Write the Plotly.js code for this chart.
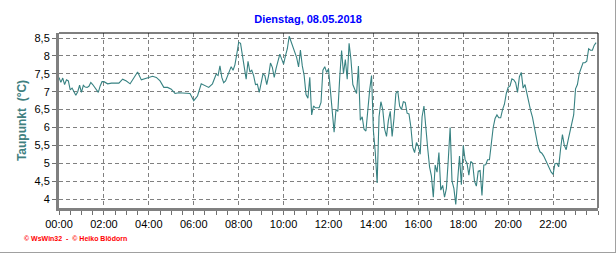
<!DOCTYPE html>
<html>
<head>
<meta charset="utf-8">
<script src="https://cdn.plot.ly/plotly-3.0.1.min.js"></script>
<style>
html,body{margin:0;padding:0;background:#fff;}
#chart{width:616px;height:253px;}
</style>
</head>
<body>
<div id="chart"></div>
<script>
// Measurement times (08.05.2018)
const times = [
"00:00","00:05","00:10","00:15","00:20","00:25","00:30","00:35","00:40","00:45","00:50","00:55",
"01:00","01:05","01:10","01:15","01:20","01:25","01:30","01:35","01:40","01:45","01:50","01:55","02:00",
"02:10","02:20","02:30","02:40","02:50","03:00","03:10","03:20","03:30","03:40","03:50",
"04:00","04:10","04:20","04:30","04:40","04:50","05:00","05:10","05:20","05:30","05:40","05:50",
"06:00","06:10","06:20","06:30","06:40","06:50",
"07:00","07:05","07:10","07:15","07:20","07:25","07:30","07:35","07:40","07:45","07:50","07:55",
"08:00","08:05","08:10","08:15","08:20","08:25","08:30","08:35","08:40","08:45","08:50","08:55",
"09:00","09:05","09:10","09:15","09:20","09:25","09:30","09:35","09:40","09:45","09:50","09:55",
"10:00","10:05","10:10","10:15","10:20","10:25","10:30","10:35","10:40","10:45","10:50","10:55",
"11:00","11:05","11:10","11:15","11:20","11:25","11:30","11:35","11:40","11:45","11:50","11:55",
"12:00","12:05","12:10","12:15","12:20","12:25","12:30","12:35","12:40","12:45","12:50","12:55",
"13:00","13:05","13:10","13:15","13:20","13:25","13:30","13:35","13:40","13:45","13:50","13:55",
"14:00","14:05","14:10","14:15","14:20","14:25","14:30","14:35","14:40","14:45","14:50","14:55",
"15:00","15:05","15:10","15:15","15:20","15:25","15:30","15:35","15:40","15:45","15:50","15:55",
"16:00","16:05","16:10","16:15","16:20","16:25","16:30","16:35","16:40","16:45","16:50","16:55",
"17:00","17:05","17:10","17:15","17:20","17:25","17:30","17:35","17:40","17:45","17:50","17:55",
"18:00","18:05","18:10","18:15","18:20","18:25","18:30","18:35","18:40","18:45","18:50","18:55",
"19:00","19:05","19:10","19:15","19:20","19:25","19:30","19:35","19:40","19:45","19:50","19:55",
"20:00","20:05","20:10","20:15","20:20","20:25","20:30","20:35","20:40","20:45","20:50","20:55",
"21:00","21:05","21:10","21:15","21:20","21:25","21:30","21:35","21:40","21:45","21:50","21:55",
"22:00","22:05","22:10","22:15","22:20","22:25","22:30","22:35","22:40","22:45","22:50","22:55",
"23:00","23:05","23:10","23:15","23:20","23:25","23:30","23:35","23:40","23:45","23:50","23:55"
];

// Dew point (°C)
const taupunkt = [
7.4,7.26,7.38,7.2,7.33,7.3,7.05,7.1,7.0,6.9,7.0,7.18,
6.98,7.18,7.13,7.12,7.15,7.26,7.2,7.13,7.05,6.98,7.16,7.28,7.28,
7.22,7.24,7.24,7.24,7.35,7.3,7.22,7.38,7.55,7.33,7.36,
7.4,7.43,7.4,7.3,7.12,7.12,7.07,6.95,6.97,6.97,6.97,6.95,
6.75,6.88,7.22,7.18,7.12,7.22,
7.49,7.45,7.72,7.4,7.25,7.3,7.45,7.6,7.7,7.6,7.75,8.05,
8.38,8.35,8.05,7.75,7.35,7.85,7.55,7.6,7.45,7.2,7.21,6.98,
7.3,7.5,7.45,7.2,7.45,7.8,7.68,7.4,7.65,7.9,8.05,7.91,
7.77,8.0,8.2,8.55,8.4,8.27,8.1,7.95,7.69,8.16,7.72,7.45,
6.92,6.82,7.4,6.35,6.6,6.55,6.55,6.55,6.7,7.6,7.7,7.54,
7.63,7.0,6.3,5.87,6.5,6.45,7.4,8.15,7.5,7.9,7.35,8.35,
7.9,7.2,7.07,6.95,7.72,6.2,6.3,5.95,5.9,6.6,7.05,7.45,
5.9,5.3,4.45,6.3,6.72,6.5,5.95,5.75,6.2,6.45,5.75,6.25,
6.95,7.02,6.6,6.5,6.72,6.7,6.4,6.38,6.02,5.45,5.3,5.58,
5.48,5.25,6.3,6.6,5.9,5.42,4.9,4.64,4.05,4.95,4.75,5.3,
4.25,4.38,4.05,4.3,5.1,6.0,4.5,4.3,3.85,4.6,5.2,4.4,
5.5,5.1,5.0,4.67,5.05,5.0,4.5,4.36,4.78,4.8,4.1,4.95,
4.96,5.1,5.1,5.55,6.0,6.25,6.35,6.27,6.27,6.5,6.65,6.95,
7.12,7.16,7.36,7.33,7.25,6.98,7.42,7.54,7.1,7.2,6.94,6.7,
6.47,6.28,6.0,5.72,5.46,5.32,5.28,5.2,5.08,4.95,4.84,4.75,
4.69,4.99,5.0,4.9,5.4,5.8,5.5,5.38,5.64,5.9,6.18,6.35,
7.08,7.2,7.51,7.67,7.81,7.81,7.85,8.2,8.16,8.16,8.3,8.37
];

// Hour tick labels on the time axis
const xTickLabels = ["00:00","02:00","04:00","06:00","08:00","10:00","12:00","14:00","16:00","18:00","20:00","22:00"];

const day = "2018-05-08 ";
const titleText = "Dienstag, 08.05.2018";
const yTitle = "Taupunkt\u00a0\u00a0(°C)";
const credit = "© WsWin32  -  © Heiko Blödorn";

const trace = {
  x: times.map(t => day + t),
  y: taupunkt,
  type: "scatter",
  mode: "lines",
  line: {color: "#378282", width: 1.1},
  hoverinfo: "skip"
};

const layout = {
  width: 616, height: 253,
  margin: {l: 59, r: 18, t: 33, b: 45, pad: 0},
  paper_bgcolor: "#ffffff",
  plot_bgcolor: "#ffffff",
  separators: ",.",
  showlegend: false,
  font: {family: "Liberation Sans, Arial, sans-serif", size: 11, color: "#000000"},
  title: {
    text: titleText,
    font: {size: 11, color: "#0000ff", weight: "bold", family: "Liberation Sans, Arial, sans-serif"},
    x: 0.5, xref: "container", xanchor: "center",
    y: 0.925, yref: "container", yanchor: "middle"
  },
  xaxis: {
    type: "date",
    range: [day + "00:00", "2018-05-09 00:00"],
    tickmode: "array",
    tickvals: xTickLabels.map(t => day + t),
    ticktext: xTickLabels,
    ticks: "outside", ticklen: 4, tickcolor: "#707070", tickwidth: 1,
    minor: {tickmode: "linear", tick0: day + "00:00", dtick: 1800000, ticks: "outside", ticklen: 4, tickcolor: "#707070", showgrid: false},
    showgrid: true, gridcolor: "#808080", gridwidth: 1, griddash: "4px,3px",
    showline: true, linecolor: "#808080", linewidth: 3,
    zeroline: false, fixedrange: true,
    tickfont: {size: 11, color: "#000000"}
  },
  yaxis: {
    range: [3.75, 8.64],
    dtick: 0.5, tick0: 0,
    ticks: "outside", ticklen: 4, tickcolor: "#707070", tickwidth: 1,
    showgrid: true, gridcolor: "#808080", gridwidth: 1, griddash: "4px,3px",
    showline: true, linecolor: "#808080", linewidth: 3,
    zeroline: false, fixedrange: true,
    tickfont: {size: 11, color: "#000000"},
    title: {text: yTitle, font: {size: 12, color: "#408080", weight: "bold"}, standoff: 6}
  },
  shapes: [
    {type: "line", xref: "paper", yref: "paper", x0: 0, x1: 1, y0: 1, y1: 1, line: {color: "#000000", width: 1}},
    {type: "line", xref: "paper", yref: "paper", x0: 1, x1: 1, y0: 0, y1: 1, line: {color: "#000000", width: 1}},
    {type: "line", xref: "paper", yref: "paper", x0: 1.0325, x1: 1.0325, y0: -0.3, y1: 1.25, line: {color: "#a0a0a0", width: 1}},
    {type: "line", xref: "paper", yref: "paper", x0: -0.15, x1: 1.0325, y0: -0.2543, y1: -0.2543, line: {color: "#a0a0a0", width: 1}}
  ],
  annotations: [
    {text: credit, xref: "paper", yref: "paper", x: -0.0686, y: -0.177, xanchor: "left", yanchor: "middle",
     showarrow: false, font: {size: 7, color: "#ff0000", weight: "bold"}}
  ]
};

Plotly.newPlot("chart", [trace], layout, {displayModeBar: false, staticPlot: true});
</script>
</body>
</html>
